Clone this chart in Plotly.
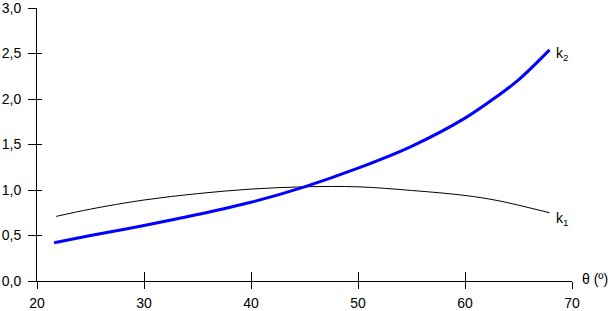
import plotly.graph_objects as go

theta1 = [21.8, 25, 30, 35, 40, 45, 50, 55, 60, 63, 66, 67.9]
k1 = [0.71, 0.79, 0.89, 0.96, 1.01, 1.035, 1.035, 0.995, 0.94, 0.885, 0.805, 0.75]

theta2 = [21.6, 25, 30, 35, 40, 45, 50, 55, 60, 63, 65, 67.9]
k2 = [0.42, 0.50, 0.61, 0.73, 0.865, 1.035, 1.24, 1.48, 1.79, 2.03, 2.21, 2.54]

x_ticks = [20, 30, 40, 50, 60, 70]
y_ticks = [0, 0.5, 1.0, 1.5, 2.0, 2.5, 3.0]

font = dict(family="Liberation Sans, Arial", size=14, color="black")

fig = go.Figure()
fig.add_trace(go.Scatter(x=theta1, y=k1, mode="lines", line=dict(color="black", width=1, shape="spline"),
                         showlegend=False, hoverinfo="skip"))
fig.add_trace(go.Scatter(x=theta2, y=k2, mode="lines", line=dict(color="#0000FF", width=3, shape="spline"),
                         showlegend=False, hoverinfo="skip"))
# helper trace for overlay axes (crossing tick marks)
fig.add_trace(go.Scatter(x=[20], y=[0], xaxis="x2", yaxis="y2", mode="markers",
                         marker=dict(opacity=0), showlegend=False, hoverinfo="skip"))

fig.update_layout(
    width=614, height=311,
    margin=dict(l=37, r=42, t=8, b=30),
    plot_bgcolor="white", paper_bgcolor="white",
    separators=",.",
    font=font,
    xaxis=dict(range=[20, 70], tickvals=x_ticks, ticks="outside", ticklen=7, tickcolor="black",
               showline=True, linecolor="black", linewidth=1, showgrid=False, zeroline=False,
               tickfont=font, automargin=False, ticklabelstandoff=2, ticklabeloverflow="allow"),
    yaxis=dict(range=[0, 3], tickvals=y_ticks, tickformat=".1f", ticks="outside", ticklen=8,
               tickcolor="black", showline=True, linecolor="black", linewidth=1,
               showgrid=False, zeroline=False, tickfont=font, automargin=False,
               ticklabelstandoff=4, ticklabeloverflow="allow"),
    xaxis2=dict(range=[20, 70], tickvals=x_ticks, ticks="inside", ticklen=9, tickcolor="black",
                overlaying="x", anchor="y", showticklabels=False, showgrid=False, zeroline=False,
                showline=False, automargin=False),
    yaxis2=dict(range=[0, 3], tickvals=y_ticks, ticks="inside", ticklen=5, tickcolor="black",
                overlaying="y", anchor="x", showticklabels=False, showgrid=False, zeroline=False,
                showline=False, automargin=False),
    annotations=[
        dict(x=68.3, y=2.5, xref="x", yref="y", text="k<sub>2</sub>", showarrow=False,
             xanchor="left", yanchor="middle", font=font),
        dict(x=68.3, y=0.68, xref="x", yref="y", text="k<sub>1</sub>", showarrow=False,
             xanchor="left", yanchor="middle", font=font),
        dict(x=1, y=0, xref="paper", yref="paper", text="θ (º)", showarrow=False,
             xanchor="left", yanchor="middle", xshift=8, yshift=2, font=font),
    ],
)

fig.write_html("out.html")
